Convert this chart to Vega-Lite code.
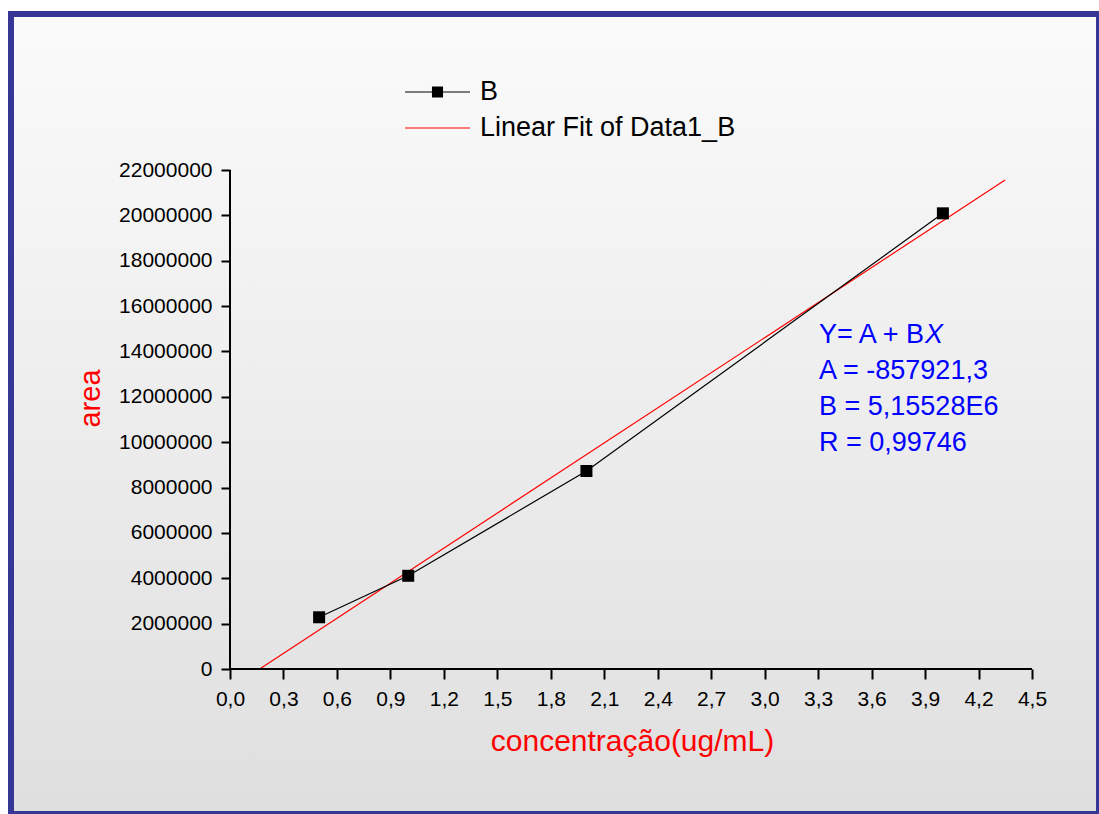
{
  "$schema": "https://vega.github.io/schema/vega-lite/v6.json",
  "width": 1088,
  "height": 800,
  "autosize": {"type": "none"},
  "padding": {"left": 11, "top": 14, "right": 0, "bottom": 0},
  "background": "#ffffff",
  "config": {
    "font": "Liberation Sans",
    "mark": {"invalid": null},
    "view": {
      "stroke": "#363696",
      "strokeWidth": 6,
      "fill": {
        "gradient": "linear",
        "x1": 0, "y1": 0, "x2": 0, "y2": 1,
        "stops": [
          {"offset": 0, "color": "#fbfbfb"},
          {"offset": 1, "color": "#dfdfdf"}
        ]
      }
    }
  },
  "datasets": {
    "measured": [
      {"conc": 0.5, "area": 2280000},
      {"conc": 1.0, "area": 4110000},
      {"conc": 2.0, "area": 8730000},
      {"conc": 4.0, "area": 20090000}
    ],
    "fit": [
      {"conc": 0.1664, "area": 0},
      {"conc": 4.349, "area": 21560000}
    ],
    "series": [
      {"series": "B"},
      {"series": "Linear Fit of Data1_B"}
    ],
    "one": [
      {"k": 1}
    ]
  },
  "layer": [
    {
      "data": {"name": "fit"},
      "mark": {"type": "line", "color": "#ff0000", "strokeWidth": 1.2},
      "encoding": {
        "x": {
          "field": "conc",
          "type": "quantitative",
          "scale": {"domain": [-1.2288, 4.87594], "nice": false, "zero": false},
          "axis": {
            "orient": "bottom",
            "offset": -145,
            "domain": false,
            "grid": false,
            "values": [0, 0.15, 0.3, 0.45, 0.6, 0.75, 0.9, 1.05, 1.2, 1.35, 1.5, 1.65, 1.8, 1.95, 2.1, 2.25, 2.4, 2.55, 2.7, 2.85, 3.0, 3.15, 3.3, 3.45, 3.6, 3.75, 3.9, 4.05, 4.2, 4.35, 4.5],
            "labelExpr": "round(datum.value * 100) % 30 === 0 ? replace(format(datum.value, '.1f'), '.', ',') : ''",
            "tickSize": {"condition": {"test": "round(datum.value * 100) % 30 === 0", "value": 10}, "value": 6},
            "tickWidth": 2,
            "tickColor": "#000000",
            "labelColor": "#000000",
            "labelFontSize": 21,
            "labelPadding": 9,
            "labelFlush": false,
            "labelOverlap": false,
            "title": "concentração(ug/mL)",
            "titleColor": "#ff0000",
            "titleFontSize": 30,
            "titleFontWeight": "normal",
            "titleX": 621,
            "titleY": 81,
            "titleAlign": "center",
            "titleBaseline": "alphabetic",
            "titleAnchor": null
          }
        },
        "y": {
          "field": "area",
          "type": "quantitative",
          "scale": {"domain": [-6392786, 28877756], "nice": false, "zero": false},
          "axis": {
            "orient": "left",
            "offset": -219,
            "domain": false,
            "grid": false,
            "values": [0, 1000000, 2000000, 3000000, 4000000, 5000000, 6000000, 7000000, 8000000, 9000000, 10000000, 11000000, 12000000, 13000000, 14000000, 15000000, 16000000, 17000000, 18000000, 19000000, 20000000, 21000000, 22000000],
            "labelExpr": "datum.value % 2000000 === 0 ? format(datum.value, 'd') : ''",
            "tickSize": {"condition": {"test": "datum.value % 2000000 === 0", "value": 9}, "value": 5},
            "tickWidth": 2,
            "tickColor": "#000000",
            "labelColor": "#000000",
            "labelFontSize": 21,
            "labelPadding": 9,
            "labelFlush": false,
            "labelOverlap": false,
            "title": "area",
            "titleColor": "#ff0000",
            "titleFontSize": 29,
            "titleFontWeight": "normal",
            "titleY": 384,
            "titleX": -131,
            "titleAlign": "center",
            "titleBaseline": "alphabetic",
            "titleAnchor": null
          }
        }
      }
    },
    {
      "data": {"name": "one"},
      "mark": {"type": "rule", "stroke": "#000000", "strokeWidth": 2},
      "encoding": {
        "x": {"datum": 0, "type": "quantitative", "scale": {"domain": [-1.2288, 4.87594], "nice": false, "zero": false}},
        "x2": {"datum": 4.5},
        "y": {"datum": 0, "type": "quantitative", "scale": {"domain": [-6392786, 28877756], "nice": false, "zero": false}}
      }
    },
    {
      "data": {"name": "one"},
      "mark": {"type": "rule", "stroke": "#000000", "strokeWidth": 2},
      "encoding": {
        "x": {"datum": 0, "type": "quantitative", "scale": {"domain": [-1.2288, 4.87594], "nice": false, "zero": false}},
        "y": {"datum": 0, "type": "quantitative", "scale": {"domain": [-6392786, 28877756], "nice": false, "zero": false}},
        "y2": {"datum": 22000000}
      }
    },
    {
      "data": {"name": "measured"},
      "mark": {"type": "line", "color": "#000000", "strokeWidth": 1.2},
      "encoding": {
        "x": {"field": "conc", "type": "quantitative", "scale": {"domain": [-1.2288, 4.87594], "nice": false, "zero": false}},
        "y": {"field": "area", "type": "quantitative", "scale": {"domain": [-6392786, 28877756], "nice": false, "zero": false}}
      }
    },
    {
      "data": {"name": "measured"},
      "mark": {"type": "point", "shape": "square", "filled": true, "size": 144, "color": "#000000", "opacity": 1},
      "encoding": {
        "x": {"field": "conc", "type": "quantitative", "scale": {"domain": [-1.2288, 4.87594], "nice": false, "zero": false}},
        "y": {"field": "area", "type": "quantitative", "scale": {"domain": [-6392786, 28877756], "nice": false, "zero": false}}
      }
    },
    {
      "data": {"name": "one"},
      "mark": {
        "type": "text",
        "align": "left",
        "baseline": "alphabetic",
        "fontSize": 27,
        "color": "#0000ff",
        "lineHeight": 36.3,
        "text": ["Y= A + B", "A = -857921,3", "B = 5,15528E6", "R = 0,99746"]
      },
      "encoding": {
        "x": {"datum": 3.305, "type": "quantitative", "scale": {"domain": [-1.2288, 4.87594], "nice": false, "zero": false}},
        "y": {"datum": 14390000, "type": "quantitative", "scale": {"domain": [-6392786, 28877756], "nice": false, "zero": false}}
      }
    },
    {
      "data": {"name": "one"},
      "mark": {
        "type": "text",
        "align": "left",
        "baseline": "alphabetic",
        "fontSize": 27,
        "fontStyle": "italic",
        "color": "#0000ff",
        "dx": 106,
        "text": "X"
      },
      "encoding": {
        "x": {"datum": 3.305, "type": "quantitative", "scale": {"domain": [-1.2288, 4.87594], "nice": false, "zero": false}},
        "y": {"datum": 14390000, "type": "quantitative", "scale": {"domain": [-6392786, 28877756], "nice": false, "zero": false}}
      }
    },
    {
      "data": {"name": "series"},
      "mark": {"type": "point", "filled": true, "opacity": 0, "size": 900},
      "encoding": {
        "x": {"datum": 0, "type": "quantitative", "scale": {"domain": [-1.2288, 4.87594], "nice": false, "zero": false}},
        "y": {"datum": 0, "type": "quantitative", "scale": {"domain": [-6392786, 28877756], "nice": false, "zero": false}},
        "color": {
          "field": "series",
          "type": "nominal",
          "scale": {"domain": ["B", "Linear Fit of Data1_B"], "range": ["#000000", "#ff0000"]},
          "legend": {
            "orient": "none",
            "legendX": 411.5,
            "legendY": 63,
            "title": null,
            "padding": 0,
            "labelFontSize": 27,
            "labelColor": "#000000",
            "labelOffset": 27.5,
            "labelLimit": 0,
            "rowPadding": 8,
            "symbolSize": 900,
            "symbolOpacity": 1,
            "symbolStrokeWidth": 0
          }
        },
        "shape": {
          "field": "series",
          "type": "nominal",
          "scale": {
            "domain": ["B", "Linear Fit of Data1_B"],
            "range": [
              "M-2.17,-0.035H-0.37V0.035H-2.17Z M-0.37,-0.37H0.37V0.37H-0.37Z M0.37,-0.035H2.17V0.035H0.37Z",
              "M-2.17,-0.035H2.17V0.035H-2.17Z"
            ]
          },
          "legend": {
            "orient": "none",
            "legendX": 411.5,
            "legendY": 63,
            "title": null,
            "padding": 0,
            "labelFontSize": 27,
            "labelColor": "#000000",
            "labelOffset": 27.5,
            "labelLimit": 0,
            "rowPadding": 8,
            "symbolSize": 900,
            "symbolOpacity": 1,
            "symbolStrokeWidth": 0
          }
        }
      }
    }
  ]
}
